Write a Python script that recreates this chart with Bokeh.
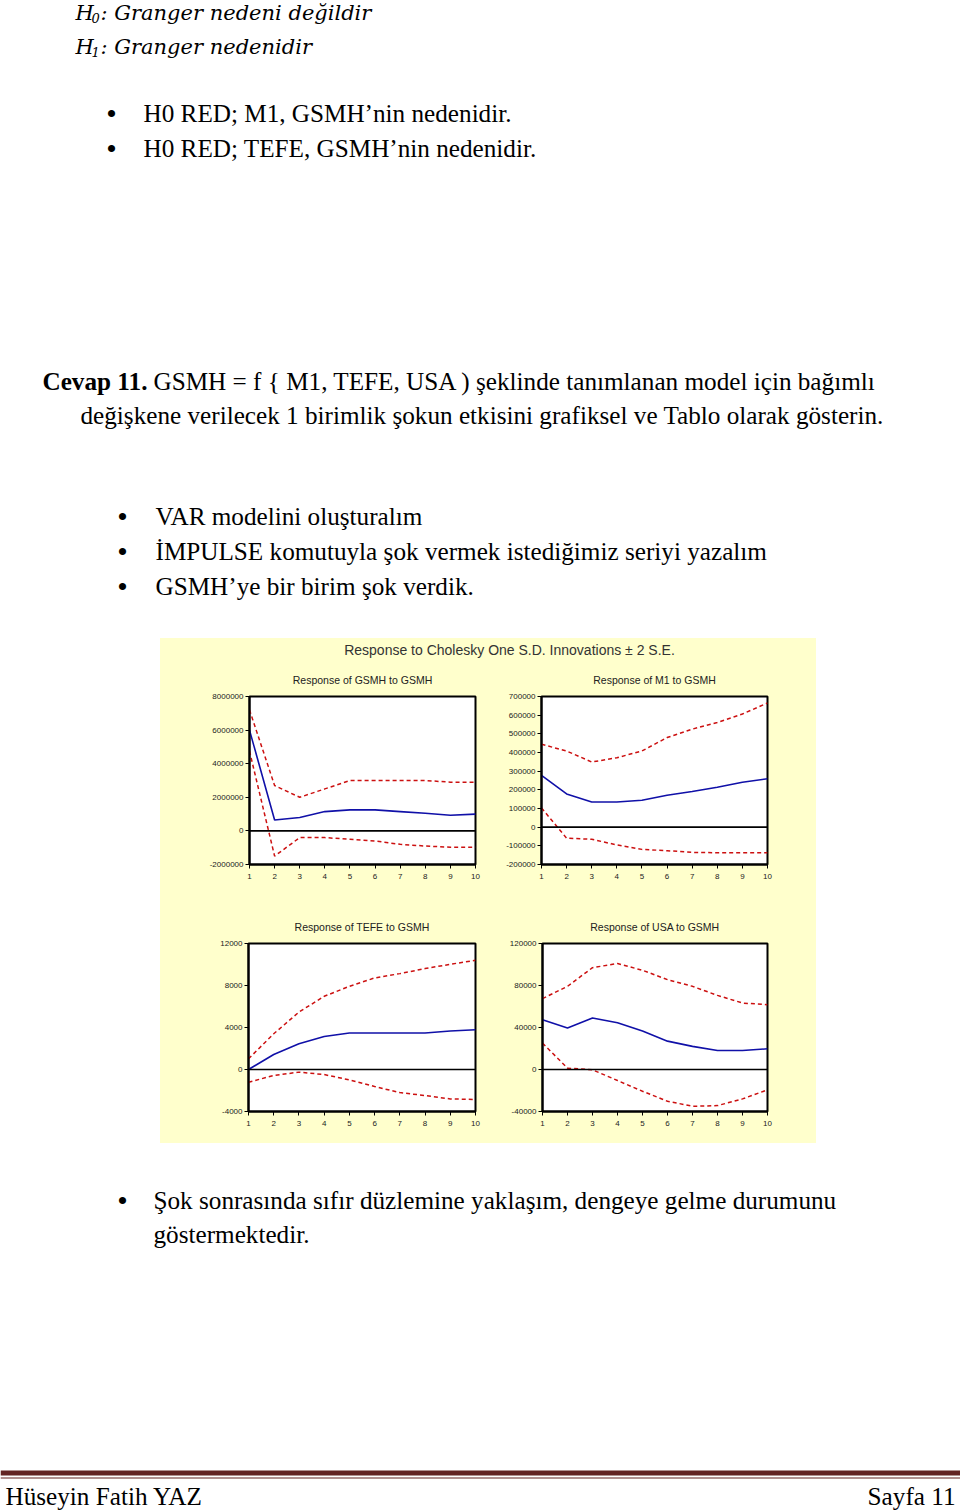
from bokeh.plotting import figure
from bokeh.layouts import column, row
from bokeh.models import Range1d, Span, FixedTicker, Spacer, PrintfTickFormatter
from bokeh.core.properties import value
from bokeh.embed import file_html
from bokeh.resources import INLINE

# ---------------- data ----------------
periods = [1, 2, 3, 4, 5, 6, 7, 8, 9, 10]

gsmh_mid = [6000000, 650000, 800000, 1150000, 1250000, 1250000, 1150000, 1050000, 930000, 1000000]
gsmh_hi = [7200000, 2700000, 2000000, 2500000, 3000000, 3000000, 3000000, 3000000, 2900000, 2900000]
gsmh_lo = [4750000, -1500000, -400000, -400000, -500000, -600000, -800000, -900000, -970000, -970000]
gsmh_ticks = [-2000000, 0, 2000000, 4000000, 6000000, 8000000]

m1_mid = [277000, 178000, 135000, 135000, 144000, 171000, 191000, 214000, 241000, 259000]
m1_hi = [444000, 408000, 349000, 372000, 408000, 480000, 525000, 561000, 606000, 665000]
m1_lo = [103000, -59000, -65000, -95000, -119000, -126000, -135000, -137000, -137000, -137000]
m1_ticks = [-200000, -100000, 0, 100000, 200000, 300000, 400000, 500000, 600000, 700000]

tefe_mid = [0, 1430, 2450, 3150, 3470, 3470, 3470, 3470, 3660, 3790]
tefe_hi = [1020, 3400, 5470, 6970, 7920, 8720, 9130, 9610, 10020, 10400]
tefe_lo = [-1210, -570, -250, -480, -990, -1620, -2200, -2480, -2800, -2860]
tefe_ticks = [-4000, 0, 4000, 8000, 12000]

usa_mid = [47400, 39500, 49000, 44600, 36600, 27000, 22000, 18100, 18100, 19700]
usa_hi = [67500, 79200, 97000, 100900, 94500, 85600, 79200, 70600, 63300, 61700]
usa_lo = [25100, 1300, -300, -10500, -20700, -30200, -35000, -34400, -28000, -19400]
usa_ticks = [-40000, 0, 40000, 80000, 120000]

main_title = "Response to Cholesky One S.D. Innovations \u00b1 2 S.E."
sub_titles = ["Response of GSMH to GSMH", "Response of M1 to GSMH",
              "Response of TEFE to GSMH", "Response of USA to GSMH"]

hyp_lines = [": Granger nedeni de\u011fildir", ": Granger nedenidir"]
hyp_subs = ["0", "1"]
bullets_1 = ["H0 RED; M1, GSMH\u2019nin nedenidir.", "H0 RED; TEFE, GSMH\u2019nin nedenidir."]
cevap_bold = "Cevap 11."
cevap_line1 = "GSMH = f { M1, TEFE, USA ) \u015feklinde tan\u0131mlanan model i\u00e7in ba\u011f\u0131ml\u0131"
cevap_line2 = "de\u011fi\u015fkene verilecek 1 birimlik \u015fokun etkisini grafiksel ve Tablo olarak g\u00f6sterin."
bullets_2 = ["VAR modelini olu\u015ftural\u0131m",
             "\u0130MPULSE komutuyla \u015fok vermek istedi\u011fimiz seriyi yazal\u0131m",
             "GSMH\u2019ye bir birim \u015fok verdik."]
bullet_3 = ["\u015eok sonras\u0131nda s\u0131f\u0131r d\u00fczlemine yakla\u015f\u0131m, dengeye gelme durumunu",
            "g\u00f6stermektedir."]
footer_left = "H\u00fcseyin Fatih YAZ"
footer_right = "Sayfa 11"

# ---------------- styles ----------------
SERIF = "Liberation Serif"
MATH = "DejaVu Serif"
SANS = "Liberation Sans"
BODY = "25.2px"
BULLET = "30px"
YELLOW = "#ffffcc"
BLUE = "#1010a8"
RED = "#cc1010"
W = 960


def blank(width, height, fill="white"):
    p = figure(width=width, height=height, x_range=Range1d(0, width), y_range=Range1d(height, 0),
               output_backend="svg", toolbar_location=None, x_axis_type=None, y_axis_type=None,
               min_border=0)
    p.grid.visible = False
    p.outline_line_color = None
    p.background_fill_color = fill
    p.border_fill_color = fill
    return p


def txt(p, x, y, s, size=BODY, font=SERIF, style="normal", align="left", color="black"):
    p.text(x=[x], y=[y], text=[s], text_font=value(font), text_font_size=size,
           text_font_style=style, text_align=align, text_baseline="middle", text_color=color)


# ---------------- top text (page y 0..638) ----------------
top = blank(W, 638)
for i, (sub, line) in enumerate(zip(hyp_subs, hyp_lines)):
    yc = 12 + 34 * i
    txt(top, 75, yc, "H", size="21px", font=MATH, style="italic")
    txt(top, 91, yc + 5, sub, size="13px", font=MATH, style="italic")
    txt(top, 100, yc, line, size="21px", font=MATH, style="italic")
for i, s in enumerate(bullets_1):
    yc = 113 + 35 * i
    txt(top, 111, yc, "\u2022", size=BULLET, align="center")
    txt(top, 143, yc, s)
txt(top, 42, 381, cevap_bold, style="bold")
txt(top, 153, 381, cevap_line1)
txt(top, 80, 415, cevap_line2)
for i, s in enumerate(bullets_2):
    yc = 516 + 35 * i
    txt(top, 122, yc, "\u2022", size=BULLET, align="center")
    txt(top, 155, yc, s)


# ---------------- chart panel (page y 638..1143, x 160..816) ----------------
def panel(title, mid, lo, hi, ticks, width, height, bl, br, bt, bb):
    p = figure(width=width, height=height, x_range=Range1d(1, 10),
               y_range=Range1d(ticks[0], ticks[-1]), output_backend="svg",
               toolbar_location=None, min_border_left=bl, min_border_right=br,
               min_border_top=bt, min_border_bottom=bb, title=title)
    p.background_fill_color = "white"
    p.border_fill_color = YELLOW
    p.outline_line_color = "black"
    p.outline_line_width = 2
    p.grid.visible = False
    p.title.align = "center"
    p.title.text_font = SANS
    p.title.text_font_size = "10.5px"
    p.title.text_font_style = "normal"
    p.title.text_color = "#222222"
    p.title.standoff = 21
    p.xaxis.ticker = FixedTicker(ticks=periods)
    p.yaxis.ticker = FixedTicker(ticks=ticks)
    p.yaxis.formatter = PrintfTickFormatter(format="%d")
    for ax in (p.xaxis[0], p.yaxis[0]):
        ax.axis_line_color = "black"
        ax.axis_line_width = 2
        ax.major_tick_line_color = "black"
        ax.major_tick_out = 4
        ax.major_tick_in = 0
        ax.minor_tick_out = 0
        ax.minor_tick_in = 0
        ax.major_label_text_font = SANS
        ax.major_label_text_font_size = "8px"
        ax.major_label_text_color = "#222222"
    p.xaxis.major_label_standoff = 5
    p.yaxis.major_label_standoff = 2
    p.add_layout(Span(location=0, dimension="width", line_color="black", line_width=1.6))
    p.line(periods, hi, line_color=RED, line_width=1.5, line_dash="4 3")
    p.line(periods, lo, line_color=RED, line_width=1.5, line_dash="4 3")
    p.line(periods, mid, line_color=BLUE, line_width=1.6)
    return p


title_strip = blank(656, 22, fill=YELLOW)
txt(title_strip, 509 - 160, 11, main_title, size="14px", font=SANS, align="center", color="#333333")

f1 = panel(sub_titles[0], gsmh_mid, gsmh_lo, gsmh_hi, gsmh_ticks, 340, 240, 89, 25, 36, 36)
f2 = panel(sub_titles[1], m1_mid, m1_lo, m1_hi, m1_ticks, 316, 240, 41, 49, 36, 36)
f3 = panel(sub_titles[2], tefe_mid, tefe_lo, tefe_hi, tefe_ticks, 340, 243, 88, 25, 43, 32)
f4 = panel(sub_titles[3], usa_mid, usa_lo, usa_hi, usa_ticks, 316, 243, 42, 49, 43, 32)

chart = column(title_strip, row(f1, f2, styles={"background-color": YELLOW}),
               row(f3, f4, styles={"background-color": YELLOW}),
               styles={"background-color": YELLOW})
middle = row(Spacer(width=160, height=505), chart, Spacer(width=144, height=505))

# ---------------- bottom text (page y 1143..1511) ----------------
BOT = 1143
bot = blank(W, 368)
txt(bot, 122, 1200 - BOT, "\u2022", size=BULLET, align="center")
txt(bot, 153, 1200 - BOT, bullet_3[0])
txt(bot, 153, 1234 - BOT, bullet_3[1])
bot.add_layout(Span(location=1472.5 - BOT, dimension="width", line_color="#622423", line_width=5))
bot.add_layout(Span(location=1477.5 - BOT, dimension="width", line_color="#622423", line_width=1))
txt(bot, 5, 1496 - BOT, footer_left)
txt(bot, 955, 1496 - BOT, footer_right, align="right")

layout = column(top, middle, bot)
open("out.html", "w").write(file_html(layout, INLINE))
